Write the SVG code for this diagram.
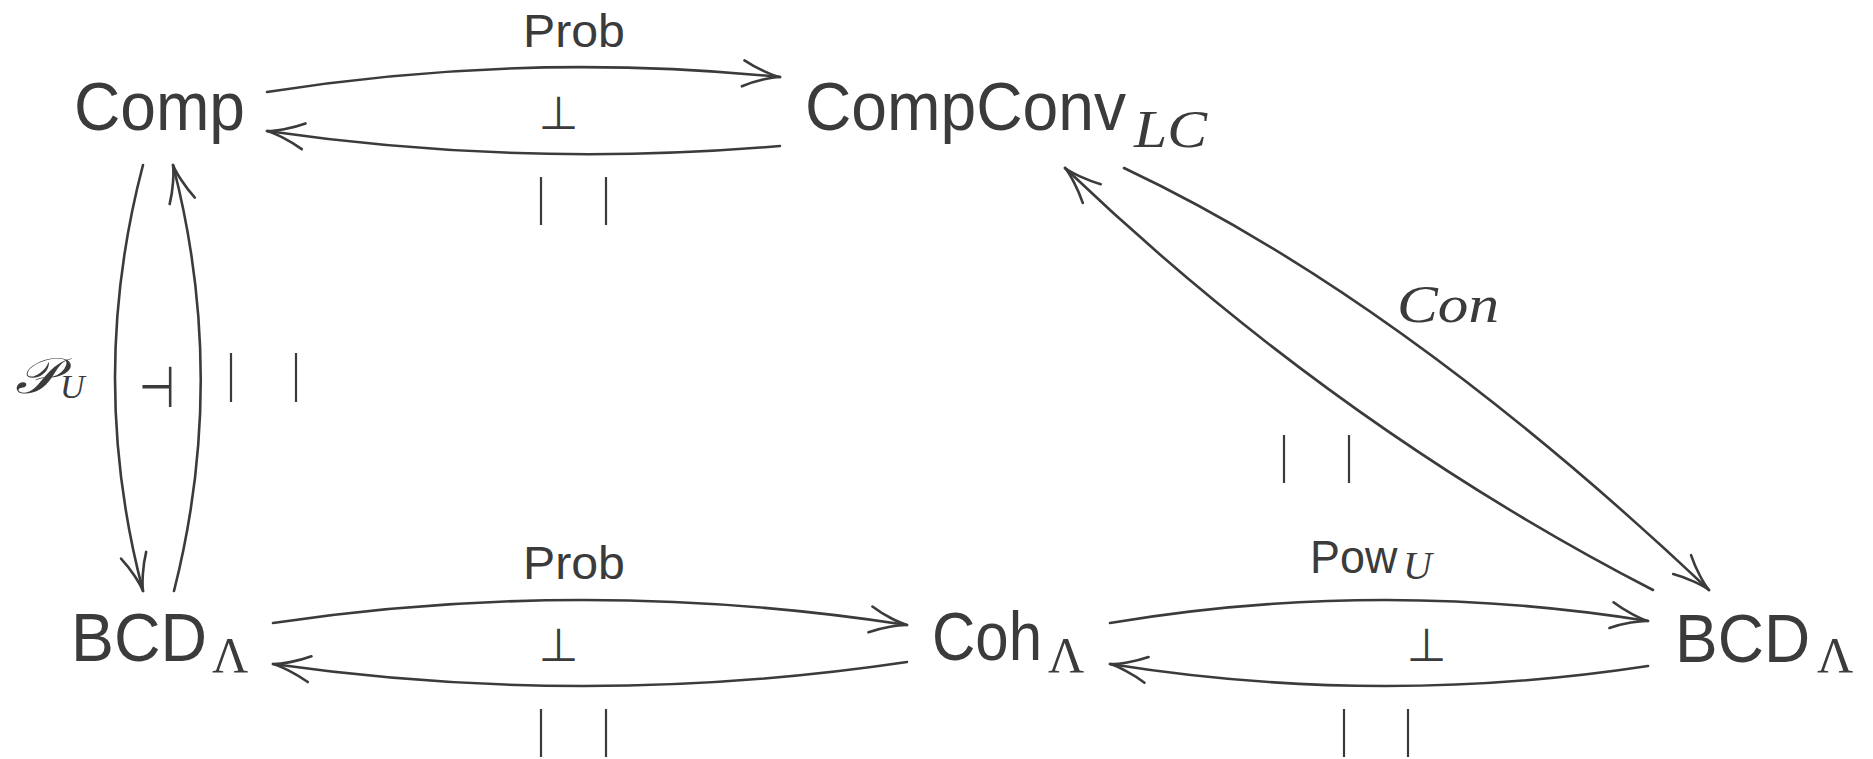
<svg xmlns="http://www.w3.org/2000/svg" width="1873" height="759" viewBox="0 0 1873 759">
  <style>
    .obj { font-family: "Liberation Sans", Arial, sans-serif; font-size: 68px; fill: #3b3b3b; }
    .lbl { font-family: "Liberation Sans", Arial, sans-serif; font-size: 47px; fill: #3b3b3b; }
    .mi { font-family: "Liberation Serif", "Times New Roman", serif; font-style: italic; fill: #3b3b3b; }
    .gr { font-family: "Liberation Serif", "Times New Roman", serif; font-size: 50px; fill: #3b3b3b; }
    .sym { font-family: "DejaVu Sans", sans-serif; font-size: 46px; fill: #3b3b3b; }
    .arrow { fill: none; stroke: #3b3b3b; stroke-width: 2.6; stroke-linecap: round; marker-end: url(#head); }
    .bar { stroke: #3b3b3b; stroke-width: 2.2; }
  </style>
  <defs>
    <marker id="head" markerUnits="userSpaceOnUse" orient="auto" markerWidth="50" markerHeight="40" viewBox="-45 -20 50 40" refX="0" refY="0" overflow="visible">
      <path d="M-37,-13 C-24,-6 -8,-1 0,0 M-37,13 C-24,6 -8,1 0,0" fill="none" stroke="#3b3b3b" stroke-width="2.6" stroke-linecap="round"/>
    </marker>
  </defs>
  <rect width="1873" height="759" fill="#ffffff"/>

  <!-- objects (names are narrowed horizontally to a condensed sans look) -->
  <g id="node-comp">
    <text class="obj" transform="translate(74,130) scale(0.943,1)">Comp</text>
  </g>
  <g id="node-compconv">
    <text class="obj" transform="translate(805,130) scale(0.944,1)">CompConv</text>
    <text class="mi" font-size="52" transform="translate(1134,147) scale(1.148,1)">LC</text>
  </g>
  <g id="node-bcd-left">
    <text class="obj" transform="translate(71,661) scale(0.948,1)">BCD</text>
    <text class="gr" x="212" y="672">Λ</text>
  </g>
  <g id="node-coh">
    <text class="obj" transform="translate(932,660) scale(0.882,1)">Coh</text>
    <text class="gr" x="1048" y="672">Λ</text>
  </g>
  <g id="node-bcd-right">
    <text class="obj" transform="translate(1675,662) scale(0.941,1)">BCD</text>
    <text class="gr" x="1817" y="672">Λ</text>
  </g>

  <!-- morphisms -->
  <g id="connectors">
    <!-- Comp <-> CompConv_LC -->
    <path class="arrow" d="M267,92 Q523,51.5 780,77"/>
    <path class="arrow" d="M780,146 Q523,168 267,131"/>
    <!-- Comp <-> BCD (left) -->
    <path class="arrow" d="M143,165 Q87,378 143,591"/>
    <path class="arrow" d="M174,591 Q228,378 173,165"/>
    <!-- BCD (left) <-> Coh -->
    <path class="arrow" d="M273,623 Q590,576 907,625"/>
    <path class="arrow" d="M907,662 Q590,709 273,664"/>
    <!-- Coh <-> BCD (right) -->
    <path class="arrow" d="M1110,623 Q1379,578 1648,621"/>
    <path class="arrow" d="M1648,666 Q1379,707 1110,664"/>
    <!-- CompConv_LC <-> BCD (right) -->
    <path class="arrow" d="M1124,168 Q1400,298 1709,590"/>
    <path class="arrow" d="M1653,590 Q1335,426 1065,168"/>
  </g>

  <!-- arrow labels and adjunction marks -->
  <g id="labels">
    <text class="lbl" transform="translate(523,47) scale(1.027,1)">Prob</text>
    <text class="lbl" transform="translate(523,579) scale(1.027,1)">Prob</text>
    <text class="lbl" transform="translate(1310,573) scale(0.955,1)">Pow</text>
    <text class="mi" x="1403" y="579" font-size="40">U</text>
    <text class="mi" font-size="52" transform="translate(1397,322) scale(1.177,1)">Con</text>
    <text class="mi" x="15" y="393" font-size="50" textLength="42" lengthAdjust="spacingAndGlyphs">𝒫</text>
    <text class="mi" x="60" y="398" font-size="34">U</text>

    <text class="sym" x="558.5" y="129" text-anchor="middle">⊥</text>
    <text class="sym" x="558.5" y="661" text-anchor="middle">⊥</text>
    <text class="sym" x="1426.5" y="661" text-anchor="middle">⊥</text>
    <text class="sym" transform="translate(157,407) scale(0.9,1.25)" text-anchor="middle">⊣</text>
  </g>

  <g id="commutes">
    <line class="bar" x1="541" y1="177" x2="541" y2="225"/>
    <line class="bar" x1="606" y1="177" x2="606" y2="225"/>
    <line class="bar" x1="231" y1="353" x2="231" y2="402"/>
    <line class="bar" x1="296" y1="353" x2="296" y2="402"/>
    <line class="bar" x1="1284" y1="435" x2="1284" y2="483"/>
    <line class="bar" x1="1349" y1="435" x2="1349" y2="483"/>
    <line class="bar" x1="541" y1="709" x2="541" y2="757"/>
    <line class="bar" x1="606" y1="709" x2="606" y2="757"/>
    <line class="bar" x1="1344" y1="709" x2="1344" y2="757"/>
    <line class="bar" x1="1408" y1="709" x2="1408" y2="757"/>
  </g>
</svg>
